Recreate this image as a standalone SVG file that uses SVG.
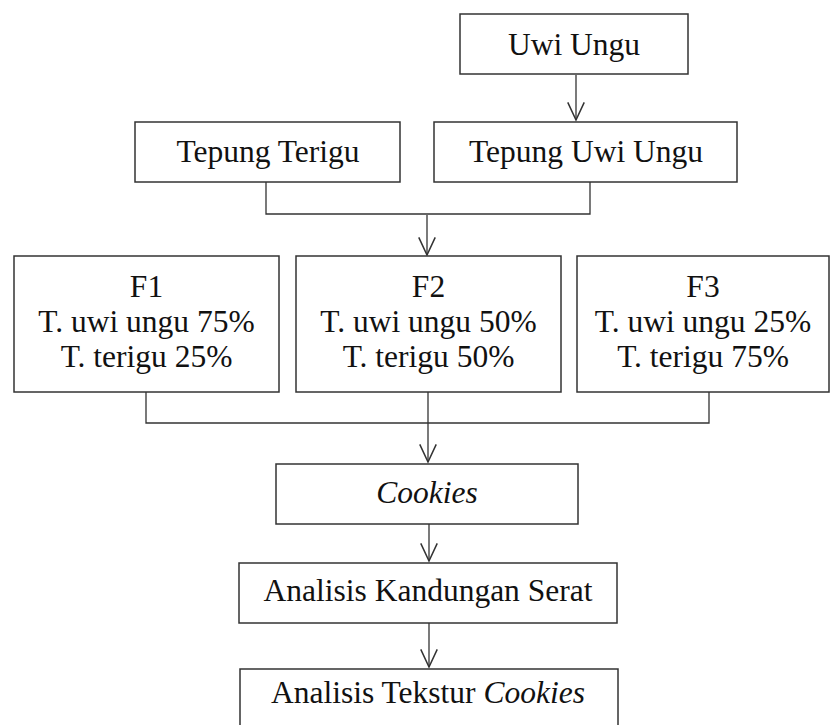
<svg xmlns="http://www.w3.org/2000/svg" width="830" height="725" viewBox="0 0 830 725">
<defs>
<marker id="arr" markerUnits="userSpaceOnUse" markerWidth="20" markerHeight="20" viewBox="-16 -8 17 16" refX="0" refY="0" orient="auto" overflow="visible">
<path d="M-15,-7 L0,0 L-15,7" fill="none" stroke="#333" stroke-width="1.3"/>
</marker>
</defs>
<style>
.box{fill:#fff;stroke:#333;stroke-width:1.5}
.t{font-family:"Liberation Serif","Times New Roman",serif;font-size:31.5px;fill:#111;text-anchor:middle}
.i{font-style:italic}
.c{fill:none;stroke:#333;stroke-width:1.3}
</style>
<rect width="830" height="725" fill="#fff"/>
<g id="connectors">
<line class="c" x1="576" y1="75" x2="576" y2="120" marker-end="url(#arr)"/>
<polyline class="c" points="266,182 266,214 590,214 590,182"/>
<line class="c" x1="427" y1="215" x2="427" y2="255" marker-end="url(#arr)"/>
<polyline class="c" points="146,392 146,423 709,423 709,392"/>
<line class="c" x1="428" y1="392" x2="428" y2="462" marker-end="url(#arr)"/>
<line class="c" x1="429" y1="524" x2="429" y2="561" marker-end="url(#arr)"/>
<line class="c" x1="429" y1="623" x2="429" y2="667" marker-end="url(#arr)"/>
</g>
<g id="uwi-ungu"><rect class="box" x="460" y="14" width="228" height="60"/><text class="t" x="574" y="55">Uwi Ungu</text></g>
<g id="tepung-terigu"><rect class="box" x="135" y="122" width="265" height="60"/><text class="t" x="268" y="162">Tepung Terigu</text></g>
<g id="tepung-uwi-ungu"><rect class="box" x="434" y="122" width="303" height="60"/><text class="t" x="586" y="162">Tepung Uwi Ungu</text></g>
<g id="f1"><rect class="box" x="14" y="256" width="265" height="136"/>
<text class="t" x="146.5" y="297">F1</text><text class="t" x="146.5" y="332">T. uwi ungu 75%</text><text class="t" x="146.5" y="367">T. terigu 25%</text></g>
<g id="f2"><rect class="box" x="296" y="256" width="265" height="136"/>
<text class="t" x="428.5" y="297">F2</text><text class="t" x="428.5" y="332">T. uwi ungu 50%</text><text class="t" x="428.5" y="367">T. terigu 50%</text></g>
<g id="f3"><rect class="box" x="577" y="256" width="252" height="136"/>
<text class="t" x="703" y="297">F3</text><text class="t" x="703" y="332">T. uwi ungu 25%</text><text class="t" x="703" y="367">T. terigu 75%</text></g>
<g id="cookies"><rect class="box" x="276" y="464" width="302" height="60"/><text class="t i" x="427" y="503">Cookies</text></g>
<g id="analisis-serat"><rect class="box" x="239" y="563" width="378" height="60"/><text class="t" x="428" y="601">Analisis Kandungan Serat</text></g>
<g id="analisis-tekstur"><rect class="box" x="240" y="669" width="378" height="62"/><text class="t" x="428" y="703">Analisis Tekstur <tspan class="i">Cookies</tspan></text></g>
</svg>
